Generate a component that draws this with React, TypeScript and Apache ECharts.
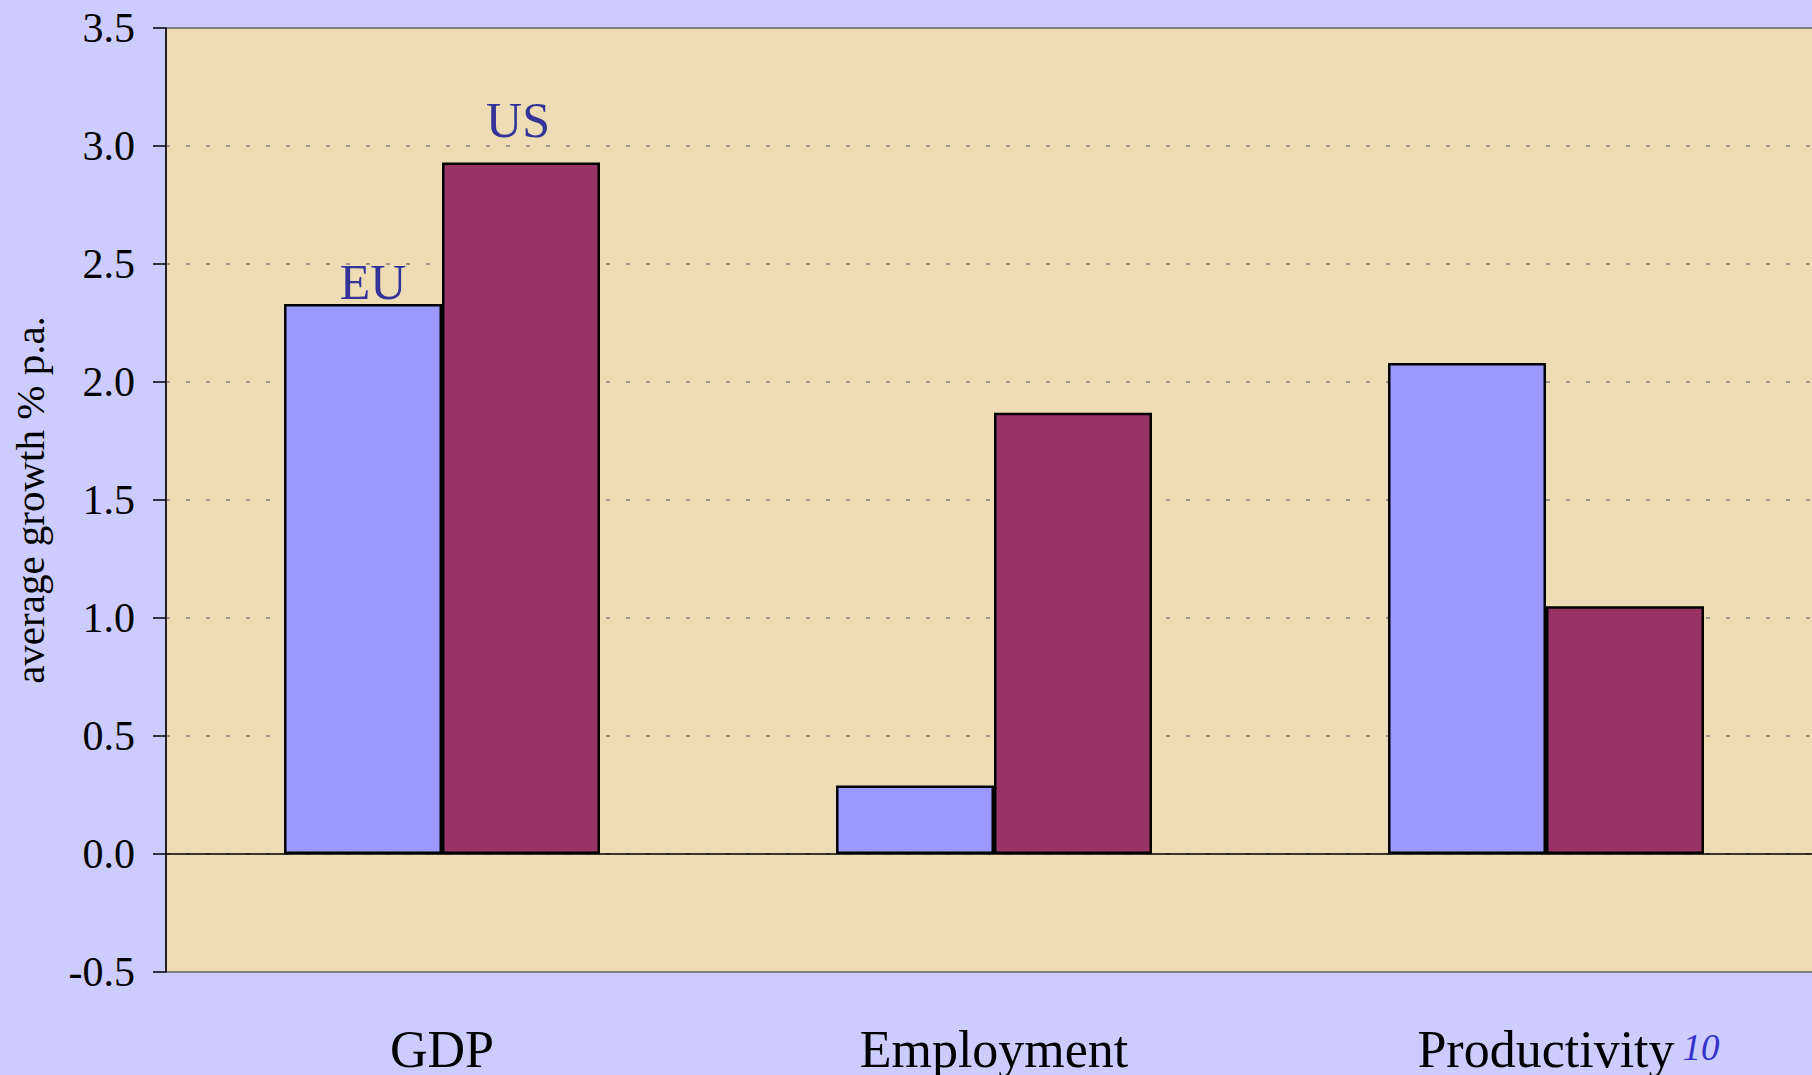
import React, { useEffect, useRef } from "react";
import * as echarts from "echarts";

const categories = ["GDP", "Employment", "Productivity"];
const euValues = [2.33, 0.29, 2.08];
const usValues = [2.93, 1.87, 1.05];
const yMin = -0.5;
const yMax = 3.5;
const yInterval = 0.5;
const yTitle = "average growth % p.a.";
const pageNumber = "10";

const SERIF = "'Liberation Serif', 'Times New Roman', 'DejaVu Serif', serif";

export default function App() {
  const ref = useRef<HTMLDivElement>(null);

  useEffect(() => {
    document.body.style.margin = "0";
    document.body.style.overflow = "hidden";
    if (!ref.current) return;
    const chart = echarts.init(ref.current, undefined, { renderer: "svg" });
    const option: any = {
      animation: false,
      backgroundColor: "#CCCCFF",
      grid: {
        left: 166,
        top: 28,
        width: 1656,
        height: 945,
        show: true,
        backgroundColor: "#EEDCB4",
        borderColor: "#808080",
        borderWidth: 2,
      },
      xAxis: {
        type: "category",
        data: categories,
        position: "bottom",
        axisLine: { show: false, onZero: false },
        axisTick: { show: false },
        splitLine: { show: false },
        axisLabel: {
          color: "#000",
          fontFamily: SERIF,
          fontSize: 52,
          margin: 51,
          lineHeight: 52,
        },
      },
      yAxis: {
        type: "value",
        min: yMin,
        max: yMax,
        interval: yInterval,
        axisLine: { show: true, lineStyle: { color: "#222", width: 2 } },
        axisTick: { show: true, inside: false, length: 13, lineStyle: { color: "#000", width: 1.5 } },
        axisLabel: {
          color: "#000",
          fontFamily: SERIF,
          fontSize: 42,
          margin: 31,
          formatter: (v: number) => v.toFixed(1),
        },
        splitLine: {
          show: true,
          lineStyle: { color: "#7f7f7f", width: 1.5, type: [4, 16] },
        },
      },
      series: [
        {
          name: "EU",
          type: "bar",
          barWidth: 158,
          barGap: "0%",
          itemStyle: { color: "#9999FF", borderColor: "#000", borderWidth: 2.5 },
          data: euValues.map((v, i) =>
            i === 0
              ? {
                  value: v,
                  label: {
                    show: true,
                    formatter: "EU",
                    position: "top",
                    distance: -3,
                    offset: [10, 0],
                    color: "#333399",
                    fontFamily: SERIF,
                    fontSize: 50,
                    lineHeight: 50,
                  },
                }
              : v
          ),
          markLine: {
            silent: true,
            symbol: "none",
            label: { show: false },
            lineStyle: { color: "#000", type: "solid", width: 1.5 },
            data: [{ yAxis: 0 }],
          },
        },
        {
          name: "US",
          type: "bar",
          barWidth: 158,
          barGap: "0%",
          itemStyle: { color: "#993366", borderColor: "#000", borderWidth: 2.5 },
          data: usValues.map((v, i) =>
            i === 0
              ? {
                  value: v,
                  label: {
                    show: true,
                    formatter: "US",
                    position: "top",
                    distance: 18,
                    offset: [-3, 0],
                    color: "#333399",
                    fontFamily: SERIF,
                    fontSize: 50,
                    lineHeight: 50,
                  },
                }
              : v
          ),
        },
      ],
      graphic: [
        {
          type: "text",
          x: 30,
          y: 500,
          rotation: Math.PI / 2,
          style: {
            text: yTitle,
            fill: "#000",
            font: `41px ${SERIF}`,
            textAlign: "center",
            textVerticalAlign: "middle",
          },
        },
        {
          type: "text",
          x: 1701,
          y: 1047,
          style: {
            text: pageNumber,
            fill: "#3333CC",
            font: `italic 37px ${SERIF}`,
            textAlign: "center",
            textVerticalAlign: "middle",
          },
        },
      ],
    };
    chart.setOption(option);
    return () => chart.dispose();
  }, []);

  return (
    <div
      ref={ref}
      style={{ position: "fixed", left: 0, top: 0, width: 1830, height: 1075 }}
    />
  );
}
